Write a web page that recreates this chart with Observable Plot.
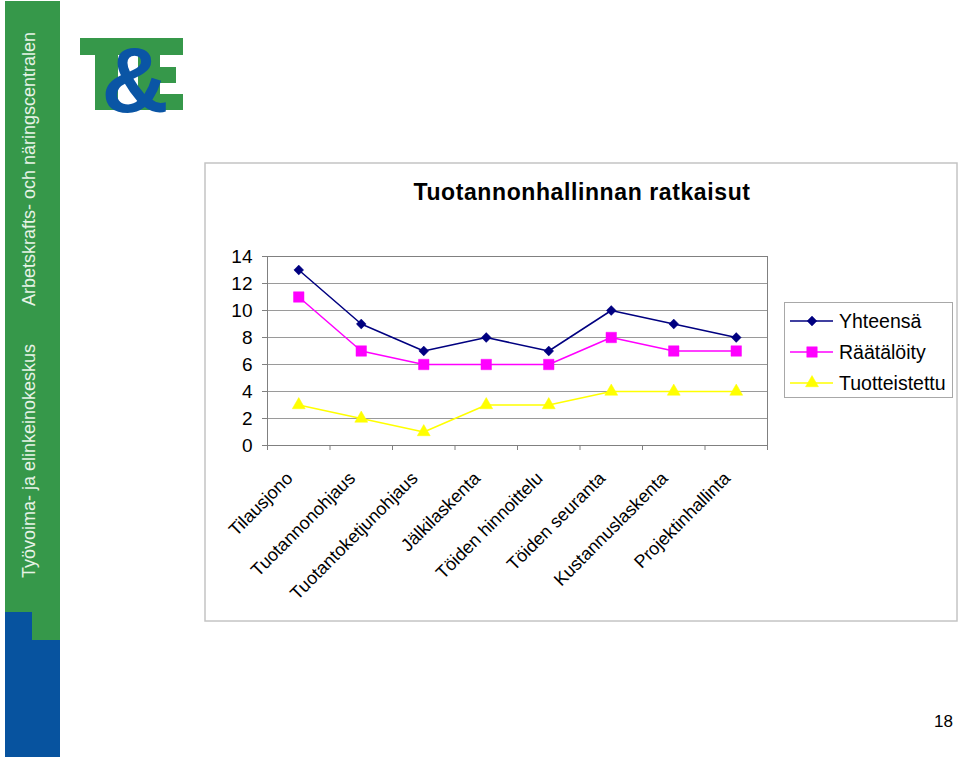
<!DOCTYPE html>
<html><head><meta charset="utf-8">
<script src="https://cdn.jsdelivr.net/npm/d3@7"></script>
<script src="https://cdn.jsdelivr.net/npm/@observablehq/plot@0.6"></script>
<style>
body{margin:0;background:#fff;}
#page{position:relative;width:960px;height:757px;overflow:hidden;font-family:"Liberation Sans",Arial,sans-serif;}
.abs{position:absolute;left:0;top:0;}
</style></head><body><div id="page">
<svg id="deco" class="abs" width="960" height="757"></svg>
<div id="chart" class="abs"></div>
<svg id="over" class="abs" width="960" height="757" style="pointer-events:none"></svg>
</div>
<script>
const categories = ["Tilausjono","Tuotannonohjaus","Tuotantoketjunohjaus","Jälkilaskenta","Töiden hinnoittelu","Töiden seuranta","Kustannuslaskenta","Projektinhallinta"];
const seriesNames = ["Yhteensä","Räätälöity","Tuotteistettu"];
const yhteensa = [13,9,7,8,7,10,9,8];
const raataloity = [11,7,6,6,6,8,7,7];
const tuotteistettu = [3,2,1,3,3,4,4,4];
const yTicks = [0,2,4,6,8,10,12,14];
const titleText = "Tuotannonhallinnan ratkaisut";
const sideTexts = ["Työvoima- ja elinkeinokeskus","Arbetskrafts- och näringscentralen"];
const pageNumber = "18";

const seriesColors = ["#000080","#FF00FF","#FFFF00"];
const seriesSymbols = ["diamond2","square","triangle"];
const seriesR = [4.4, 5.9, 4.8];
const FONT = '"Liberation Sans", Arial, sans-serif';

const values = [yhteensa, raataloity, tuotteistettu];
const rows = seriesNames.flatMap((s, k) => categories.map((c, i) => ({series: s, k, cat: c, pos: i + 0.5, value: values[k][i]})));
const catRows = categories.map((c, i) => ({cat: c, pos: i + 0.5}));
const bounds = d3.range(categories.length + 1);

// decoration (slide background)
const deco = d3.select("#deco");
deco.append("rect").attr("x",5).attr("y",1).attr("width",55).attr("height",640).attr("fill","#36984a");
deco.append("rect").attr("x",5).attr("y",612).attr("width",27).attr("height",145).attr("fill","#07539f");
deco.append("rect").attr("x",5).attr("y",640).attr("width",55).attr("height",117).attr("fill","#07539f");
deco.append("text").attr("transform","translate(35,578) rotate(-90)").attr("font-family",FONT).attr("font-size",18).attr("fill","#e6f3e6").text(sideTexts[0]);
deco.append("text").attr("transform","translate(35,306) rotate(-90)").attr("font-family",FONT).attr("font-size",18).attr("fill","#e6f3e6").text(sideTexts[1]);
// logo T&E
const g = "#36984a";
deco.append("rect").attr("x",80).attr("y",38).attr("width",103).attr("height",17).attr("fill",g);
deco.append("rect").attr("x",95).attr("y",38).attr("width",23).attr("height",72).attr("fill",g);
deco.append("rect").attr("x",138).attr("y",38).attr("width",22).attr("height",72).attr("fill",g);
deco.append("rect").attr("x",138).attr("y",67).attr("width",38).attr("height",16).attr("fill",g);
deco.append("rect").attr("x",138).attr("y",94).attr("width",45).attr("height",16).attr("fill",g);
deco.append("text").attr("x",135).attr("y",112).attr("text-anchor","middle").attr("font-family",FONT).attr("font-weight","bold").attr("font-size",93).attr("fill","#0a55a5").text("&");
// chart box
deco.append("rect").attr("x",205).attr("y",163).attr("width",752).attr("height",458).attr("fill","#fff").attr("stroke","#c4c4c4").attr("stroke-width",1.5);
deco.append("text").attr("x",582).attr("y",200).attr("text-anchor","middle").attr("font-family",FONT).attr("font-weight","bold").attr("font-size",23).attr("letter-spacing",0.6).attr("fill","#000").text(titleText);
// page number
deco.append("text").attr("x",953).attr("y",727).attr("text-anchor","end").attr("font-family",FONT).attr("font-size",17).attr("fill","#000").text(pageNumber);

// chart
const dotMarks = seriesNames.map((s, k) => Plot.dot(rows.filter(d => d.k === k), {x: "pos", y: "value", fill: seriesColors[k], stroke: seriesColors[k], strokeWidth: 0.5, symbol: seriesSymbols[k], r: seriesR[k]}));
const chart = Plot.plot({
  width: 960, height: 757,
  marginLeft: 267, marginRight: 193, marginTop: 256, marginBottom: 312,
  style: {background: "transparent", fontFamily: FONT, color: "#000", overflow: "visible"},
  x: {domain: [0, categories.length], axis: null},
  y: {domain: [0, 14], axis: null},
  color: {domain: seriesNames, range: seriesColors},
  marks: [
    Plot.gridY(yTicks, {stroke: "#9a9a9a", strokeOpacity: 1}),
    Plot.axisY(yTicks, {tickSize: 5, tickPadding: 10, stroke: "#808080", fontSize: 19, label: null}),
    Plot.axisX(bounds, {tickSize: 5, tickFormat: () => "", stroke: "#808080", label: null}),
    Plot.frame({stroke: "#808080"}),
    Plot.line(rows, {x: "pos", y: "value", z: "series", stroke: "series", strokeWidth: 1.5}),
    ...dotMarks,
    Plot.text(catRows, {x: "pos", frameAnchor: "bottom", text: "cat", rotate: -45, textAnchor: "end", lineAnchor: "bottom", dx: -5, dy: 34, fontSize: 18})
  ]
});
document.getElementById("chart").appendChild(chart);

// legend
const over = d3.select("#over");
over.append("rect").attr("x",784.5).attr("y",302.5).attr("width",168).attr("height",95).attr("fill","#fff").attr("stroke","#a8a8a8");
seriesNames.forEach((s, k) => {
  const y = 321 + k * 31;
  over.append("line").attr("x1",790).attr("x2",833).attr("y1",y).attr("y2",y).attr("stroke",seriesColors[k]).attr("stroke-width",1.5);
  const sym = {diamond2: d3.symbolDiamond2, square: d3.symbolSquare, triangle: d3.symbolTriangle}[seriesSymbols[k]];
  over.append("path").attr("transform",`translate(812,${y})`).attr("d", d3.symbol(sym, Math.PI * seriesR[k] * seriesR[k])()).attr("fill",seriesColors[k]).attr("stroke",seriesColors[k]).attr("stroke-width",0.5);
  over.append("text").attr("x",839).attr("y",y + 7).attr("font-family",FONT).attr("font-size",19.5).attr("fill","#000").text(s);
});
</script>
</body></html>
